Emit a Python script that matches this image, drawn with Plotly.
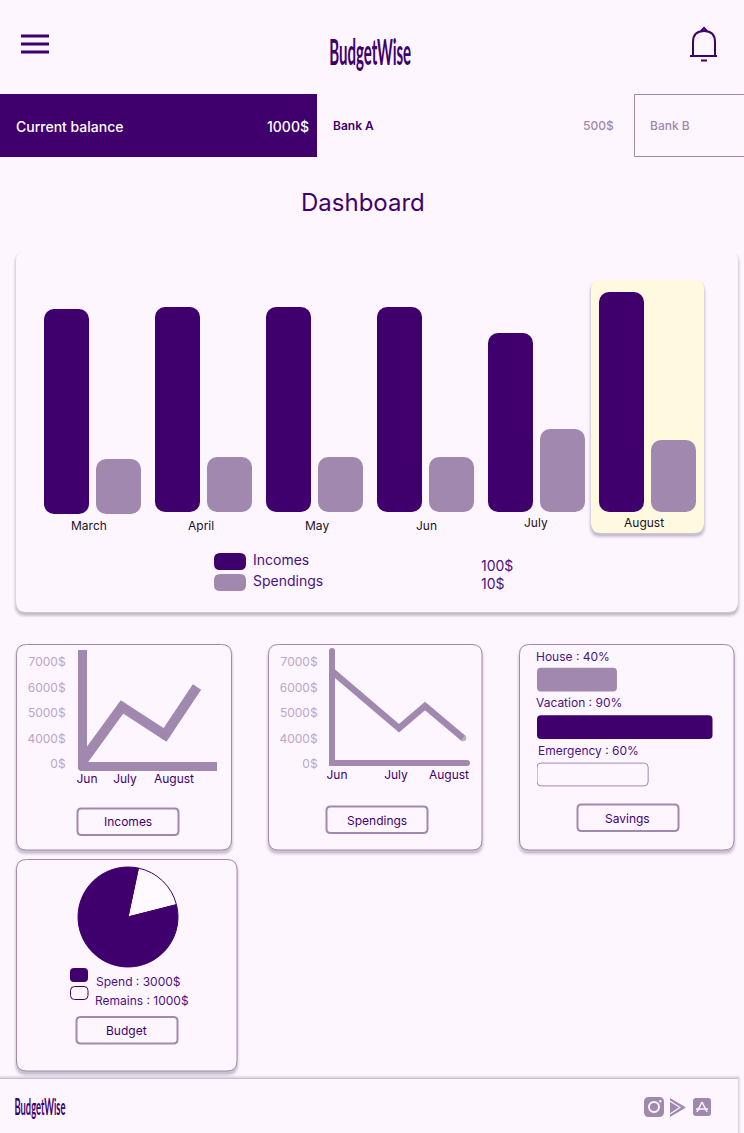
import numpy as np
import plotly.graph_objects as go

W, H = 744, 1133
BG = '#FEF6FF'
DARK = '#3F006E'
MID = '#A188AE'
LIGHT = '#BBA6C8'
TEXT = '#4A1280'

# monthly bars (heights, no scale is shown)
months = ['March', 'April', 'May', 'Jun', 'July', 'August']
incomes = np.array([205, 205, 205, 205, 179, 220])
spendings = np.array([55, 55, 55, 55, 83, 72])
baseline = np.array([-2, 0, 0, 0, 0, 0])  # March sits a bit lower in the mockup

# small line charts, the y axis is stepped (0, 4000, 5000...)
tick_dollars = [0, 4000, 5000, 6000, 7000]
tick_labels = ['0$', '4000$', '5000$', '6000$', '7000$']
line_months = ['Jun', 'July', 'August']
income_days = [0, 40, 83, 115]
income_line = [0, 5160, 4060, 5940]
income_month_days = [5, 43, 92]
spending_days = [1, 67, 93, 131]
spending_line = [6450, 4250, 5120, 3450]
spending_month_days = [5, 64, 117]

savings_names = ['House', 'Vacation', 'Emergency']
savings_bars = np.array([41, 90, 57])

budget_names = ['Remains', 'Spend']
budget_values = [17.7, 82.3]


def px(x):
    return x / W


def py(y):
    return 1 - y / H


shapes = []
notes = []


def round_path(x0, y0, x1, y1, r):
    X0, X1, Y0, Y1 = px(x0), px(x1), py(y0), py(y1)
    rx, ry = r / W, r / H
    return (f'M{X0 + rx},{Y0} L{X1 - rx},{Y0} Q{X1},{Y0} {X1},{Y0 - ry} '
            f'L{X1},{Y1 + ry} Q{X1},{Y1} {X1 - rx},{Y1} L{X0 + rx},{Y1} '
            f'Q{X0},{Y1} {X0},{Y1 + ry} L{X0},{Y0 - ry} Q{X0},{Y0} {X0 + rx},{Y0} Z')


def box(x0, y0, x1, y1, r=0, fill=BG, line=None, lw=1):
    shapes.append(dict(type='path', path=round_path(x0, y0, x1, y1, r), xref='paper', yref='paper',
                       fillcolor=fill, line=dict(color=line or 'rgba(0,0,0,0)', width=lw if line else 0),
                       layer='below'))


def shadow(x0, y0, x1, y1, r, dy=3):
    for spread, alpha in [(3, 0.03), (2, 0.05), (1, 0.07), (0, 0.10)]:
        box(x0 - spread, y0 - spread + dy, x1 + spread, y1 + spread + dy, r + spread,
            fill=f'rgba(40,20,50,{alpha})')


def card(x0, y0, x1, y1, r=10, line=MID):
    shadow(x0, y0, x1, y1, r)
    box(x0, y0, x1, y1, r, fill=BG, line=line)


def path(d, fill='rgba(0,0,0,0)', line=None, lw=0, layer='below'):
    # d is a list of commands with pixel coordinates
    out = ''
    for c in d:
        if len(c) == 1:
            out += c[0] + ' '
        else:
            pts = c[1:]
            out += c[0] + ' '.join(f'{px(pts[i])},{py(pts[i + 1])}' for i in range(0, len(pts), 2)) + ' '
    shapes.append(dict(type='path', path=out, xref='paper', yref='paper', fillcolor=fill,
                       line=dict(color=line or 'rgba(0,0,0,0)', width=lw), layer=layer))


def text(x, y, s, size=12, color=TEXT, anchor='left', weight=400, family='Inter'):
    notes.append(dict(x=px(x), y=py(y - 0.7), xref='paper', yref='paper', text=s, showarrow=False,
                      xanchor=anchor, yanchor='middle', align=anchor, borderpad=0, borderwidth=0,
                      font=dict(family=family, size=size, color=color, weight=weight)))


# header
for y in [36, 44, 52]:
    path([('M', 21, y), ('L', 49, y)], line=DARK, lw=3)
path([('M', 693, 56), ('L', 693, 42), ('Q', 693, 31, 704, 31), ('Q', 715, 31, 715, 42), ('L', 715, 56)],
     line=DARK, lw=2)
path([('M', 690, 56), ('L', 717, 56)], line=DARK, lw=2)
path([('M', 701, 31), ('L', 704, 28), ('L', 707, 31)], line=DARK, lw=2)
path([('M', 701, 60.5), ('L', 707, 60.5)], line=DARK, lw=2)
text(370, 52, 'BudgetWise', size=36, color=DARK, anchor='center', family='Lato', weight=700)

box(0, 94, 317, 157, fill=DARK)
box(634.5, 94.5, 746, 156.5, line=MID)
text(16, 127, 'Current balance', size=14, color='white', weight=500)
text(309, 127, '1000$', size=14, color='white', anchor='right', weight=500)
text(333, 126, 'Bank A', size=12, color=DARK, weight=600)
text(614, 126, '500$', size=12, color=MID, anchor='right', weight=500)
text(650, 126, 'Bank B', size=12, color=MID, weight=500)
text(363, 203, 'Dashboard', size=24, color=DARK, anchor='center')

# big card
card(16, 251, 738, 612, line=None)
shadow(591, 280, 704, 533, 10)
box(591, 280, 704, 533, 10, fill='#FFFADF')
label_x = [88.5, 201, 317, 426, 536, 644]
label_y = [526, 526, 526, 526, 523, 523]
for m, lx, ly in zip(months, label_x, label_y):
    text(lx, ly, m, size=12, color='#1C1024', anchor='center')
box(214, 553, 246, 570, 6, fill=DARK)
box(214, 574, 246, 591, 6, fill=MID)
text(253, 560, 'Incomes', size=14)
text(253, 581, 'Spendings', size=14)
text(481, 566, '100$', size=14)
text(481, 584, '10$', size=14)

# small cards
for x0, y0, x1, y1 in [(16.5, 644.5, 231.5, 850), (268.5, 644.5, 482, 850), (519.5, 644.5, 734, 850),
                       (16.5, 859.5, 237, 1071)]:
    card(x0, y0, x1, y1)
for x0, y0, name, tx, ty in [(77.5, 808.5, 'Incomes', 128, 822), (326.5, 806.5, 'Spendings', 377, 821),
                             (577.5, 804.5, 'Savings', 627.5, 819), (76.5, 1017, 'Budget', 127, 1031)]:
    box(x0, y0, x0 + 101, y0 + 26.5, 4, fill=BG, line=MID, lw=2)
    text(tx, ty, name, size=12, color=DARK, anchor='center')

text(536, 657, 'House : 40%', size=12)
text(536, 703.5, 'Vacation : 90%', size=12)
text(537.5, 751, 'Emergency : 60%', size=12)

box(70, 968, 88, 982, 4, fill=DARK)
box(70.5, 986.5, 88, 999.5, 4, fill=BG, line=DARK)
text(95.5, 982, 'Spend : 3000$', size=12)
text(95, 1001, 'Remains : 1000$', size=12)

# footer
shadow(-6, 1079, 738, 1140, 0, dy=-1)
box(-6, 1079, 738, 1140, 0, fill=BG)
text(39.5, 1107, 'BudgetWise', size=22, color=DARK, anchor='center', family='Lato', weight=700)
box(644, 1097, 664, 1117, 5, fill=MID)
shapes.append(dict(type='circle', x0=px(649), x1=px(659), y0=py(1112), y1=py(1102), xref='paper', yref='paper',
                   line=dict(color=BG, width=2), layer='below'))
shapes.append(dict(type='circle', x0=px(659), x1=px(661.5), y0=py(1102.5), y1=py(1100), xref='paper', yref='paper',
                   fillcolor=BG, line=dict(width=0), layer='below'))
path([('M', 670, 1098), ('L', 686, 1107.5), ('L', 670, 1117), ('Z',)], fill=MID)
path([('M', 670, 1101), ('L', 680, 1107.5), ('L', 670, 1114)], line=BG, lw=1.2)
box(693, 1098, 711, 1116, 3, fill=MID)
path([('M', 702, 1102), ('L', 707, 1112), ('M', 702, 1102), ('L', 697, 1112), ('M', 696, 1109), ('L', 708, 1109)],
     line=BG, lw=1.5)
# round ends of the spendings axes
for cx, cy in [(332, 651), (467, 763)]:
    shapes.append(dict(type='circle', x0=px(cx - 3), x1=px(cx + 3), y0=py(cy + 3), y1=py(cy - 3),
                       xref='paper', yref='paper', fillcolor=MID, line=dict(width=0), layer='below'))
# soft corner where the incomes axes meet
path([('M', 76, 764), ('L', 76, 772), ('L', 84, 772), ('Q', 77, 771, 76, 764), ('Z',)], fill=BG, layer='above')

fig = go.Figure()

# monthly chart, categories are 111 px apart and one axis unit is one pixel on y
# giving a base makes plotly round all four corners
fig.add_trace(go.Bar(x=months, y=incomes, base=baseline, width=45 / 111, offset=-48.5 / 111,
                     marker=dict(color=DARK, cornerradius=10, line=dict(width=0)),
                     showlegend=False, hoverinfo='skip'))
fig.add_trace(go.Bar(x=months, y=spendings, base=baseline, width=45 / 111, offset=3.5 / 111,
                     marker=dict(color=MID, cornerradius=10, line=dict(width=0)),
                     showlegend=False, hoverinfo='skip'))

tick_pos = np.arange(len(tick_dollars))
fig.add_trace(go.Scatter(x=income_days, y=np.interp(income_line, tick_dollars, tick_pos), mode='lines+markers',
                         line=dict(color=MID, width=10), marker=dict(size=[0, 10, 10, 0], color=MID, line=dict(width=0)),
                         xaxis='x2', yaxis='y2', cliponaxis=False, showlegend=False, hoverinfo='skip'))
fig.add_trace(go.Scatter(x=spending_days, y=np.interp(spending_line, tick_dollars, tick_pos), mode='lines+markers',
                         line=dict(color=MID, width=6.5), marker=dict(size=[0, 0, 0, 6.5], color=MID, line=dict(width=0)),
                         xaxis='x3', yaxis='y3', cliponaxis=False, showlegend=False, hoverinfo='skip'))

# savings
fig.add_trace(go.Bar(y=savings_names[:2], x=savings_bars[:2], base=[0, 0], orientation='h', width=0.5, offset=-0.25,
                     xaxis='x4', yaxis='y4', marker=dict(color=[MID, DARK], cornerradius=4, line=dict(width=0)),
                     showlegend=False, hoverinfo='skip'))
fig.add_trace(go.Bar(y=savings_names[2:], x=savings_bars[2:], base=[0], orientation='h', width=0.48, offset=-0.24,
                     xaxis='x4', yaxis='y4', marker=dict(color=BG, cornerradius=4, line=dict(color=MID, width=1)),
                     showlegend=False, hoverinfo='skip'))

fig.add_trace(go.Pie(labels=budget_names, values=budget_values, sort=False, direction='clockwise', rotation=12,
                     marker=dict(colors=['#FFFAFF', DARK], line=dict(color=DARK, width=1)),
                     textinfo='none', showlegend=False, hoverinfo='skip',
                     domain=dict(x=[px(78), px(178)], y=[py(967), py(867)])))


def line_axes(x0, x1, y0, y1, lw, xrange, days, y_standoff, x_standoff, shift):
    xa = dict(domain=[px(x0), px(x1)], range=xrange, showgrid=False, zeroline=False, showline=True,
              linecolor=MID, linewidth=lw, tickmode='array', tickvals=days, ticktext=line_months, ticks='',
              ticklabelstandoff=x_standoff, tickfont=dict(family='Inter', size=12, color=DARK), fixedrange=True,
              automargin=False)
    ya = dict(domain=[py(y1), py(y0)], range=[0, (y1 - y0) / 25.5], showgrid=False, zeroline=False, showline=True,
              linecolor=MID, linewidth=lw, tickmode='array', tickvals=tick_pos, ticktext=tick_labels, ticks='',
              ticklabelstandoff=y_standoff, ticklabelshift=shift,
              tickfont=dict(family='Inter', size=12, color=LIGHT), fixedrange=True, automargin=False)
    return xa, ya


x2, y2 = line_axes(87, 217, 650, 762, 9, [5, 135], income_month_days, 10, -2, 2)
x3, y3 = line_axes(335, 467, 650, 760, 6, [3, 135], spending_month_days, 9, -1, 4)
x2['anchor'], y2['anchor'], x3['anchor'], y3['anchor'] = 'y2', 'x2', 'y3', 'x3'

fig.update_layout(
    template='none',
    width=W, height=H, margin=dict(l=0, r=0, t=0, b=0), paper_bgcolor=BG, plot_bgcolor='rgba(0,0,0,0)',
    barmode='overlay', shapes=shapes, annotations=notes,
    xaxis=dict(type='category', categoryorder='array', categoryarray=months, domain=[0, 1],
               range=[-92.5 / 111, (W - 92.5) / 111], visible=False),
    yaxis=dict(domain=[py(522), py(262)], range=[-10, 250], visible=False),
    xaxis2=x2, yaxis2=y2, xaxis3=x3, yaxis3=y3,
    xaxis4=dict(domain=[px(537), px(717)], range=[0, 180 / 1.95], visible=False, anchor='y4'),
    yaxis4=dict(domain=[py(798.25), py(655.75)], type='category', categoryorder='array',
                categoryarray=savings_names, range=[2.5, -0.5], visible=False, anchor='x4'),
)

# the logo font is a tall narrow hand, squeeze the text to the logo widths
squeeze = """
document.body.style.margin='0';
document.querySelectorAll('.annotation-text').forEach(function (t) {
  if (t.textContent !== 'BudgetWise') return;
  var target = t.getBoundingClientRect().top < 200 ? 82 : 51;
  var scale = target / t.getBoundingClientRect().width;
  t.style.transformBox = 'fill-box';
  t.style.transformOrigin = 'center';
  t.style.transform = 'scaleX(' + scale + ')';
});
"""
fig.write_html('out.html', post_script=squeeze, config={'displayModeBar': False})
